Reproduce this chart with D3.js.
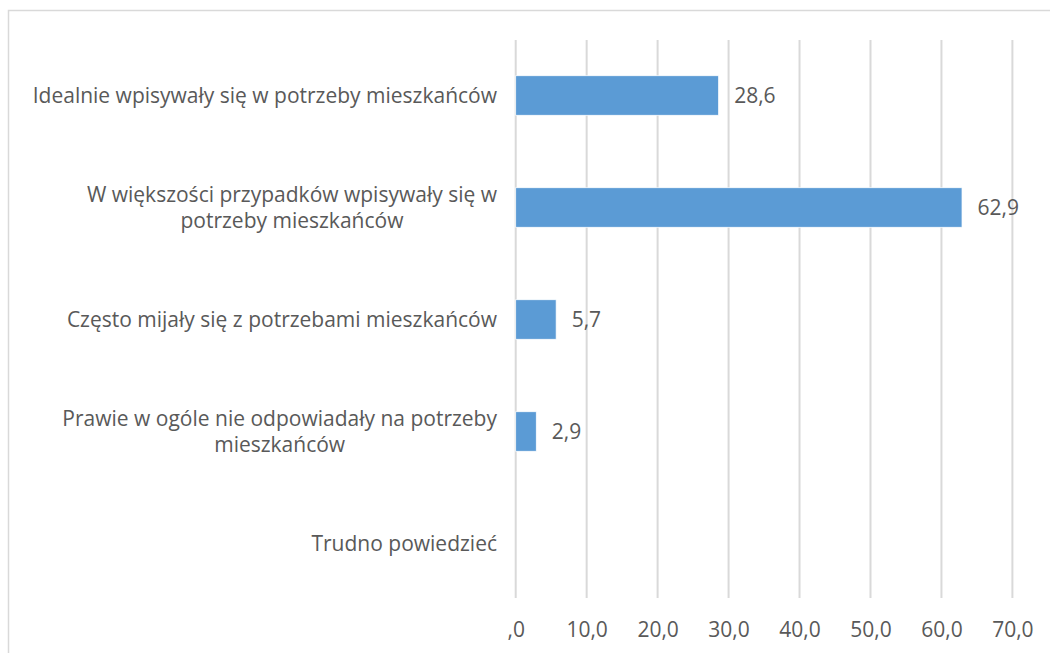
<!DOCTYPE html>
<html><head><meta charset="utf-8">
<script src="https://cdn.jsdelivr.net/npm/d3@7"></script>
<style>
html,body{margin:0;padding:0;background:#fff;}
svg{display:block;}
text{font-family:"Open Sans",sans-serif;fill:#595959;}
</style></head>
<body>
<script>
const categories = [
  "Idealnie wpisywały się w potrzeby mieszkańców",
  "W większości przypadków wpisywały się w potrzeby mieszkańców",
  "Często mijały się z potrzebami mieszkańców",
  "Prawie w ogóle nie odpowiadały na potrzeby mieszkańców",
  "Trudno powiedzieć"
];
const values = [28.6, 62.9, 5.7, 2.9, null];
const valueLabels = ["28,6", "62,9", "5,7", "2,9", ""];
const tickValues = [0, 10, 20, 30, 40, 50, 60, 70];
const tickLabels = [",0", "10,0", "20,0", "30,0", "40,0", "50,0", "60,0", "70,0"];

const W = 1050, H = 653;
const FS = 21;
const svg = d3.select("body").append("svg").attr("width", W).attr("height", H);

// chart border
svg.append("path").attr("d", `M8.5,${H} V10.5 H${W}`).attr("fill","none").attr("stroke","#d9d9d9").attr("stroke-width",1.5);

const x = d3.scaleLinear().domain([0, 70]).range([515.7, 1012.4]);
const y = d3.scaleBand().domain(categories).range([39.5, 599.5]).paddingInner(0.647).paddingOuter(0.3235);

// gridlines
svg.append("g").selectAll("line").data(tickValues).join("line")
  .attr("x1", d => x(d)).attr("x2", d => x(d)).attr("y1", 40).attr("y2", 598)
  .attr("stroke", "#d9d9d9").attr("stroke-width", 2);

// bars
const data = categories.map((c, i) => ({c, v: values[i], l: valueLabels[i]}));
svg.append("g").selectAll("rect").data(data.filter(d => d.v != null)).join("rect")
  .attr("x", x(0)).attr("y", d => y(d.c)).attr("width", d => x(d.v) - x(0)).attr("height", y.bandwidth())
  .attr("fill", "#5b9bd5").attr("stroke", "#ffffff").attr("stroke-width", 0.75);

// value labels
svg.append("g").selectAll("text").data(data.filter(d => d.v != null)).join("text")
  .attr("x", d => x(d.v) + 15.5).attr("y", d => y(d.c) + y.bandwidth()/2).attr("dy", "0.35em")
  .attr("font-size", FS).text(d => d.l);

// x axis tick labels
const xAxis = d3.axisBottom(x).tickValues(tickValues).tickSize(0).tickPadding(0)
  .tickFormat((d, i) => tickLabels[i]);
const gx = svg.append("g").attr("transform", "translate(0,637)").call(xAxis);
gx.select(".domain").remove();
gx.selectAll("text").attr("font-size", FS).attr("dy", 0).attr("fill", "#595959")
  .style("font-family", '"Open Sans",sans-serif');

// category labels with wrapping
const labelRight = 497, maxW = 475, lh = 26;
const gl = svg.append("g");
categories.forEach(c => {
  const words = c.split(" ");
  const lines = [];
  let cur = "";
  const t = gl.append("text").attr("font-size", FS);
  words.forEach(w => {
    const trial = cur ? cur + " " + w : w;
    t.text(trial);
    if (t.node().getComputedTextLength() > maxW && cur) { lines.push(cur); cur = w; }
    else cur = trial;
  });
  lines.push(cur);
  const widths = lines.map(l => { t.text(l); return t.node().getComputedTextLength(); });
  t.remove();
  const blockW = d3.max(widths);
  const cx = labelRight - blockW / 2;
  const cy = y(c) + y.bandwidth() / 2;
  const tt = gl.append("text").attr("font-size", FS).attr("text-anchor", "middle");
  lines.forEach((l, i) => {
    tt.append("tspan").attr("x", cx).attr("y", cy + (i - (lines.length - 1) / 2) * lh).attr("dy", "0.35em").text(l);
  });
});
</script>
</body></html>
